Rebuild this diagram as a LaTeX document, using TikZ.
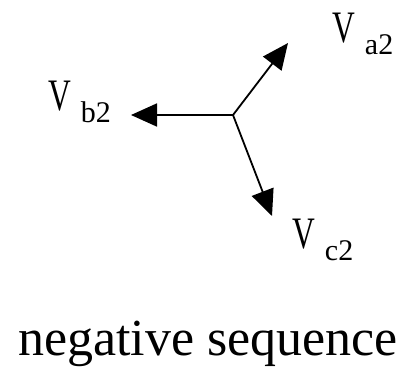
\documentclass[tikz,border=0pt]{standalone}
\usepackage{fontspec}
\setmainfont{Liberation Serif}
\usetikzlibrary{arrows.meta}

\newcommand{\phasorlabel}[1]{\scalebox{0.7}[1]{V}\hspace{10pt}\raisebox{-12pt}{\fontsize{30}{30}\selectfont #1}}

\begin{document}
\begin{tikzpicture}[
  x=1pt,y=-1pt,
  vec/.style={-{Triangle[length=26pt,width=23pt]},line width=1.8pt,black},
  lbl/.style={anchor=base west,inner sep=0pt,font=\fontsize{45}{45}\selectfont},
  caption/.style={anchor=base,inner sep=0pt,font=\fontsize{52}{60}\selectfont}
]
  \useasboundingbox (0,0) rectangle (402,368);

  \coordinate (o) at (233,115);
  \coordinate (a2) at (288,43);
  \coordinate (b2) at (131,115);
  \coordinate (c2) at (272,216);

  \draw[vec] (o) -- (a2);
  \draw[vec] (o) -- (b2);
  \draw[vec] (o) -- (c2);

  \node[lbl] (va) at (332,42) {\phasorlabel{a2}};
  \node[lbl] (vb) at (48,110) {\phasorlabel{b2}};
  \node[lbl] (vc) at (292,248) {\phasorlabel{c2}};

  \node[caption] (seq) at (208,355) {negative sequence};
\end{tikzpicture}
\end{document}
